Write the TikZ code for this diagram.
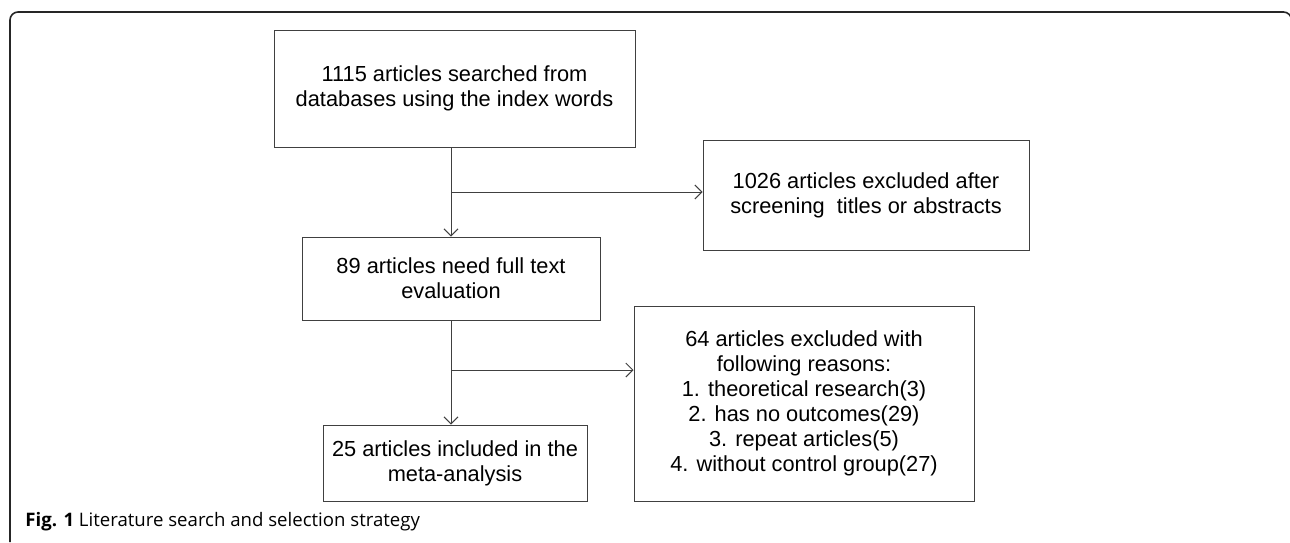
\documentclass[tikz,border=0pt]{standalone}
\usepackage{fontspec}
\setmainfont{Liberation Sans}
\newfontfamily\capfont{Open Sans}
\usetikzlibrary{arrows.meta, positioning, calc}

\begin{document}
\begin{tikzpicture}[
    x=0.5pt, y=-0.5pt,
    box/.style={draw=black!75, line width=0.5pt, align=center, inner sep=0pt,
        font=\fontsize{10.9}{12.5}\selectfont, text=black},
    arrow/.style={draw=black!75, line width=0.5pt, -{Straight Barb[length=3.5pt, width=7pt]}},
    frame/.style={draw=black!85, line width=0.8pt, rounded corners=4pt}
]
    \useasboundingbox (0,0) rectangle (1290,542);
    \draw[frame] (10,542) -- (10,12) -- (1291.5,12) -- (1291.5,542);
    \node[box, minimum width=180.5pt, minimum height=58.5pt] (b1115) at (454.5,88.5)
        {1115 articles searched from\\databases using the index words};
    \node[box, minimum width=163pt, minimum height=55pt] (b1026) at (866,195)
        {1026 articles excluded after\\screening\ \ titles or abstracts};
    \node[box, minimum width=149pt, minimum height=41.5pt] (b89) at (451,278.5)
        {89 articles need full text\\evaluation};
    \node[box, minimum width=170pt, minimum height=97.5pt] (b64) at (804,403.5)
        {64 articles excluded with\\following reasons:\\1. theoretical research(3)\\2. has no outcomes(29)\\3. repeat articles(5)\\4. without control group(27)};
    \node[box, minimum width=132pt, minimum height=38pt] (b25) at (455,463)
        {25 articles included in the\\meta-analysis};
    \coordinate (j1) at (451,192);
    \coordinate (j2) at (451,370);
    \draw[arrow] (b89.north |- b1115.south) -- (b89.north);
    \draw[arrow] (j1) -- (j1 -| b1026.west);
    \draw[arrow] (b89.south) -- (b89.south |- b25.north);
    \draw[arrow] (j2) -- (j2 -| b64.west);
    \node[anchor=base west, inner sep=0pt, font=\capfont\fontsize{9.3}{11}\selectfont] (cap) at (25,526)
        {\textbf{Fig. 1} Literature search and selection strategy};
\end{tikzpicture}
\end{document}
